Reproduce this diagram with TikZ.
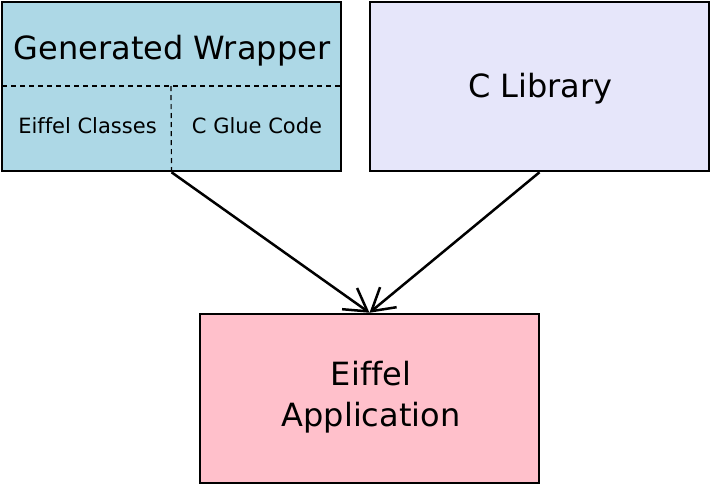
\documentclass[tikz,border=0pt]{standalone}
\usepackage{fontspec}
\setmainfont{DejaVu Sans}[Ligatures=NoCommon]
\usetikzlibrary{arrows.meta}
\definecolor{wrapblue}{HTML}{ADD8E6}
\definecolor{liblav}{HTML}{E6E6FA}
\definecolor{apppink}{HTML}{FFC0CB}
\tikzset{
  box/.style={draw=black, line width=2.5pt, rectangle, minimum width=339pt, minimum height=169pt, inner sep=0pt},
  bigtxt/.style={font=\fontsize{32}{41}\selectfont, anchor=base, inner sep=0pt},
  smalltxt/.style={font=\fontsize{21}{25}\selectfont, anchor=base, inner sep=0pt},
  divider/.style={draw=black, line width=1.2pt, dash pattern=on 5pt off 4pt},
  conn/.style={draw=black, line width=2.5pt, -{Straight Barb[length=22pt,width=26pt,line width=2.5pt]}}
}
\begin{document}
\begin{tikzpicture}[x=1pt,y=-1pt]
\useasboundingbox (0,0) rectangle (712,485);
\node[box, fill=wrapblue] (wrap) at (171.5,86.5) {};
\node[box, fill=liblav] (clib) at (539.5,86.5) {};
\node[box, fill=apppink] (app) at (369.5,398.5) {};
\coordinate (dl) at (2,86);
\coordinate (dr) at (341,86);
\coordinate (dm) at (171,86);
\draw[divider] (dl) -- (dr);
\draw[divider] (dm) -- (wrap.south);
\node[bigtxt] (gw) at (172,59) {Generated Wrapper};
\node[smalltxt] (ec) at (87.5,133) {Eiffel Classes};
\node[smalltxt] (cg) at (257,133) {C Glue Code};
\node[bigtxt] (cl) at (540.5,97) {C Library};
\node[bigtxt, align=center] (ea1) at (371,385) {Eiffel};
\node[bigtxt, align=center] (ea2) at (371,426) {Application};
\draw[conn] (wrap.south) -- (app.north);
\draw[conn] (clib.south) -- (app.north);
\end{tikzpicture}
\end{document}
